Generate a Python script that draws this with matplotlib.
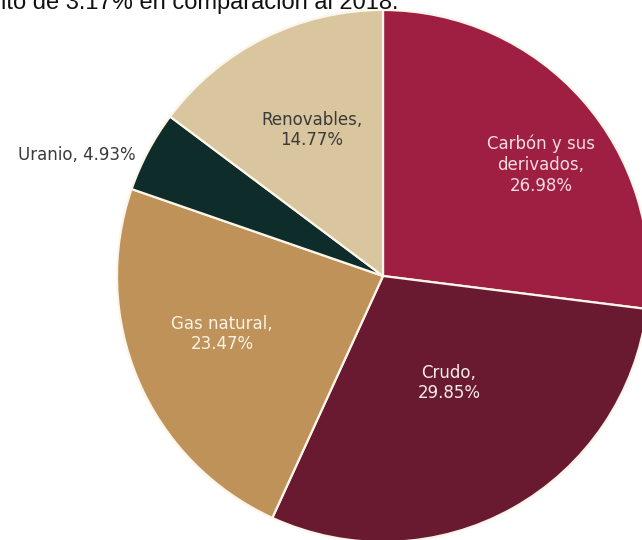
import matplotlib.pyplot as plt

# consumo de energía primaria por fuente (%)
fuentes = ["Carbón y sus\nderivados", "Crudo", "Gas natural", "Uranio", "Renovables"]
porcentajes = [26.98, 29.85, 23.47, 4.93, 14.77]
colores = ["#9E1F41", "#6A1A30", "#BF9259", "#0E2C2A", "#D9C69F"]
colores_texto = ["#F3DCE2", "#F5EEE8", "#FBF3E6", "#3A3A3A", "#3A3A3A"]
separador = [",\n", ",\n", ",\n", ", ", ",\n"]
# posiciones de las etiquetas en pixeles (origen abajo a la izquierda)
pos_etiquetas = [(541, 375), (449, 157), (222, 206), (77, 385), (312, 410)]

W, H = 642, 540
fig = plt.figure(figsize=(W / 100, H / 100), dpi=100)
ax = fig.add_axes([0, 0, 1, 1])

ax.pie(porcentajes, colors=colores, startangle=90, counterclock=False,
       center=(383, H - 276), radius=266, frame=True,
       wedgeprops=dict(edgecolor="#FBF5EA", linewidth=1.6))
ax.set_xlim(0, W)
ax.set_ylim(0, H)
ax.set_aspect("equal")
ax.axis("off")

for nombre, val, sep, (x, y), c in zip(fuentes, porcentajes, separador, pos_etiquetas, colores_texto):
    ax.text(x, y, f"{nombre}{sep}{val:.2f}%", ha="center", va="center",
            color=c, fontsize=12, fontfamily="DejaVu Sans",
            linespacing=1.2)

fig.text(1 / W, 1 - 9 / H, "ito de 3.17% en comparación al 2018.",
         ha="left", va="baseline", fontsize=17, fontfamily="Liberation Sans",
         color="#111111")

fig.savefig("out.png", dpi=100)
